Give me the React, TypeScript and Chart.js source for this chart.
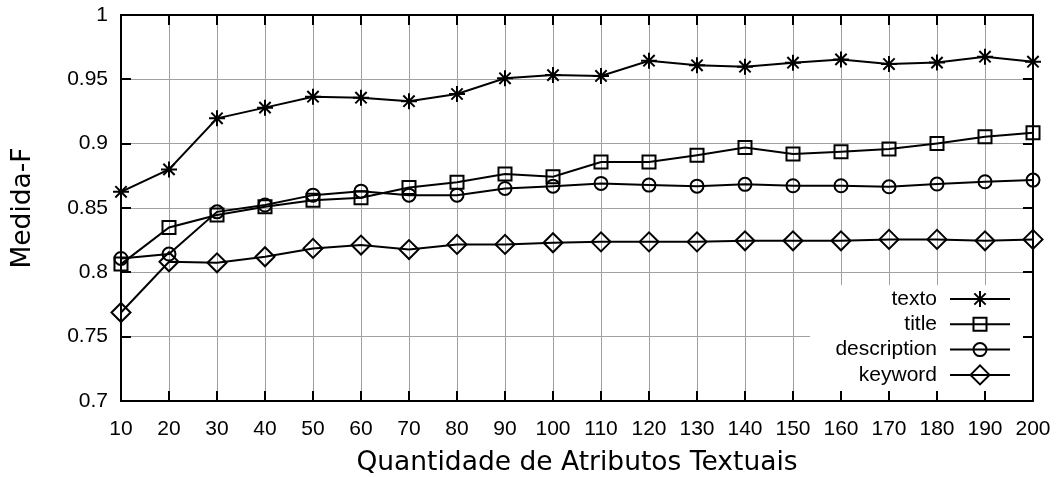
import React, { useEffect, useRef } from 'react';
import { Chart, registerables } from 'chart.js';
import { drawPoint } from 'chart.js/helpers';

Chart.register(...registerables);

// ---- data ----
const xValues = [10, 20, 30, 40, 50, 60, 70, 80, 90, 100, 110, 120, 130, 140, 150, 160, 170, 180, 190, 200];
const texto = [0.8626, 0.880, 0.9197, 0.928, 0.9365, 0.9357, 0.933, 0.9386, 0.9508, 0.9533, 0.9526, 0.9645, 0.9609, 0.9598, 0.9629, 0.9655, 0.9619, 0.963, 0.9676, 0.9637];
const title = [0.8064, 0.8349, 0.8445, 0.851, 0.8561, 0.858, 0.866, 0.870, 0.8764, 0.8743, 0.8857, 0.8857, 0.891, 0.8971, 0.8919, 0.8937, 0.8958, 0.9002, 0.9054, 0.9085];
const description = [0.8108, 0.8142, 0.847, 0.8523, 0.860, 0.8631, 0.860, 0.860, 0.8652, 0.867, 0.8691, 0.8678, 0.867, 0.8684, 0.8673, 0.8673, 0.8665, 0.8686, 0.8704, 0.8717];
const keyword = [0.7688, 0.8082, 0.8074, 0.8121, 0.8186, 0.8212, 0.8177, 0.8217, 0.8217, 0.8230, 0.8237, 0.8237, 0.8237, 0.8245, 0.8245, 0.8245, 0.8256, 0.8256, 0.8245, 0.8256];
const seriesLabels = ['texto', 'title', 'description', 'keyword'];
const yTicks = [0.7, 0.75, 0.8, 0.85, 0.9, 0.95, 1];
const xAxisTitle = 'Quantidade de Atributos Textuais';
const yAxisTitle = 'Medida-F';

const TICK_FONT = "'Liberation Sans', Arial, sans-serif";
const TITLE_FONT = "'DejaVu Sans', sans-serif";

const seriesStyles = [
  { pointStyle: 'star', pointRadius: 8 },
  { pointStyle: 'rect', pointRadius: 9.2 },
  { pointStyle: 'circle', pointRadius: 6.5 },
  { pointStyle: 'rectRot', pointRadius: 9.5 },
];

const gnuFrame = {
  id: 'gnuFrame',
  afterDatasetsDraw(chart: any) {
    const { ctx, chartArea: ca, scales } = chart;
    ctx.save();
    // opaque key box
    const keyW = 223;
    const keyH = 116;
    const kx = ca.right - keyW;
    const ky = ca.bottom - keyH;
    ctx.fillStyle = '#fff';
    ctx.fillRect(kx, ky, keyW, keyH);
    const textRight = ca.right - 96;
    const lineX0 = ca.right - 83;
    const lineX1 = ca.right - 23;
    const markX = ca.right - 53;
    const rowY0 = ky + 14;
    const rowStep = 25.3;
    ctx.font = `21px ${TICK_FONT}`;
    ctx.textAlign = 'right';
    ctx.textBaseline = 'middle';
    chart.data.datasets.forEach((ds: any, i: number) => {
      const y = rowY0 + i * rowStep;
      ctx.fillStyle = '#000';
      ctx.fillText(ds.label, textRight, y);
      ctx.strokeStyle = '#000';
      ctx.lineWidth = 2;
      ctx.beginPath();
      ctx.moveTo(lineX0, y);
      ctx.lineTo(lineX1, y);
      ctx.stroke();
      ctx.fillStyle = 'rgba(0,0,0,0)';
      drawPoint(ctx, { pointStyle: ds.pointStyle, radius: ds.pointRadius, rotation: 0, borderWidth: 2 }, markX, y);
    });
    // inward ticks
    ctx.strokeStyle = '#000';
    ctx.lineWidth = 2;
    const tl = 10;
    ctx.beginPath();
    scales.x.ticks.forEach((t: any) => {
      const px = Math.round(scales.x.getPixelForValue(t.value));
      ctx.moveTo(px, ca.bottom);
      ctx.lineTo(px, ca.bottom - tl);
      ctx.moveTo(px, ca.top);
      ctx.lineTo(px, ca.top + tl);
    });
    scales.y.ticks.forEach((t: any) => {
      const py = Math.round(scales.y.getPixelForValue(t.value));
      ctx.moveTo(ca.left, py);
      ctx.lineTo(ca.left + tl, py);
      ctx.moveTo(ca.right, py);
      ctx.lineTo(ca.right - tl, py);
    });
    ctx.stroke();
    ctx.strokeRect(ca.left, ca.top, ca.right - ca.left, ca.bottom - ca.top);
    ctx.restore();
  },
};

export default function App() {
  const ref = useRef<HTMLCanvasElement>(null);
  useEffect(() => {
    document.body.style.margin = '0';
    const all = [texto, title, description, keyword];
    const chart = new Chart(ref.current as HTMLCanvasElement, {
      type: 'line',
      data: {
        datasets: all.map((vals, i) => ({
          label: seriesLabels[i],
          data: vals.map((y, j) => ({ x: xValues[j], y })),
          borderColor: '#000',
          borderWidth: 2,
          pointStyle: seriesStyles[i].pointStyle as any,
          pointRadius: seriesStyles[i].pointRadius,
          pointBorderWidth: 2,
          pointBorderColor: '#000',
          pointBackgroundColor: 'rgba(0,0,0,0)',
          fill: false,
          tension: 0,
          clip: false as any,
        })),
      },
      options: {
        animation: false,
        responsive: false,
        events: [],
        layout: { padding: { top: 15, right: 25, left: 0, bottom: 0 } },
        plugins: { legend: { display: false }, tooltip: { enabled: false } },
        scales: {
          x: {
            type: 'linear',
            min: 10,
            max: 200,
            afterBuildTicks: (s: any) => { s.ticks = xValues.map((v) => ({ value: v })); },
            afterFit: (s: any) => {
              s.height = 76;
              s.paddingLeft = 0; s.paddingRight = 0; s.paddingTop = 0; s.paddingBottom = 0;
            },
            grid: { color: '#a0a0a0', lineWidth: 1, drawTicks: false },
            border: { display: false },
            ticks: {
              color: '#000',
              font: { family: TICK_FONT, size: 21 },
              padding: 16,
              maxRotation: 0,
              autoSkip: false,
              callback: (v: any) => String(v),
            },
            title: {
              display: true,
              text: xAxisTitle,
              color: '#000',
              font: { family: TITLE_FONT, size: 26.5, lineHeight: 1.05 },
              padding: { top: 0, bottom: 0 },
            },
          },
          y: {
            type: 'linear',
            min: 0.7,
            max: 1,
            afterBuildTicks: (s: any) => { s.ticks = yTicks.map((v) => ({ value: v })); },
            afterFit: (s: any) => {
              s.width = 121;
              s.paddingLeft = 0; s.paddingRight = 0; s.paddingTop = 0; s.paddingBottom = 0;
            },
            grid: { color: '#a0a0a0', lineWidth: 1, drawTicks: false },
            border: { display: false },
            ticks: {
              color: '#000',
              font: { family: TICK_FONT, size: 21 },
              padding: 13,
              autoSkip: false,
              callback: (v: any) => String(Number(Number(v).toFixed(2))),
            },
            title: {
              display: true,
              text: yAxisTitle,
              color: '#000',
              font: { family: TITLE_FONT, size: 26.5, lineHeight: 1.2 },
              padding: { top: 7, bottom: 0 },
            },
          },
        },
      },
      plugins: [gnuFrame],
    });
    return () => chart.destroy();
  }, []);
  return (
    <div style={{ width: 1058, height: 477 }}>
      <canvas ref={ref} width={1058} height={477} style={{ width: 1058, height: 477, display: 'block' }} />
    </div>
  );
}
